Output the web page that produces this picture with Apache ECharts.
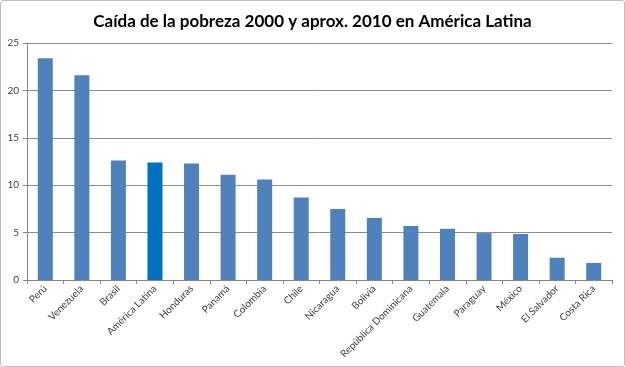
<!DOCTYPE html>
<html>
<head>
<meta charset="utf-8">
<script src="https://cdn.jsdelivr.net/npm/echarts@6/dist/echarts.min.js"></script>
<style>
html,body{margin:0;padding:0;background:#fff;}
#chart{width:625px;height:367px;box-sizing:border-box;border:1px solid #bfbfbf;border-radius:3px;}
</style>
</head>
<body>
<div id="chart"></div>
<script>
var titleText = 'Caída de la pobreza 2000 y aprox. 2010 en América Latina';
var categories = ['Perú','Venezuela','Brasil','América Latina','Honduras','Panamá','Colombia','Chile','Nicaragua','Bolivia','República Dominicana','Guatemala','Paraguay','México','El Salvador','Costa Rica'];
var values = [23.4, 21.6, 12.6, 12.4, 12.3, 11.1, 10.6, 8.7, 7.5, 6.55, 5.7, 5.4, 4.95, 4.85, 2.35, 1.8];
var highlight = 'América Latina';
var yTicks = {min: 0, max: 25, interval: 5};

var chart = echarts.init(document.getElementById('chart'), null, {renderer: 'canvas'});
var data = values.map(function (v, i) {
  return {
    value: v,
    itemStyle: {color: categories[i] === highlight ? '#0070C0' : '#4F81BD'}
  };
});
chart.setOption({
  animation: false,
  title: {
    text: titleText,
    left: 'center',
    top: 7,
    textStyle: {fontFamily: 'Lato', fontSize: 17, fontWeight: 'bold', color: '#000'}
  },
  grid: {left: 26, right: 12, top: 42, bottom: 86, containLabel: false},
  xAxis: {
    type: 'category',
    data: categories,
    boundaryGap: true,
    axisLine: {lineStyle: {color: '#868686', width: 1}},
    axisTick: {show: true, alignWithLabel: false, length: 4, lineStyle: {color: '#868686'}},
    axisLabel: {
      interval: 0, rotate: 45, fontSize: 10, color: '#404040', margin: 7,
      fontFamily: 'Lato'
    }
  },
  yAxis: {
    type: 'value',
    min: yTicks.min, max: yTicks.max, interval: yTicks.interval,
    axisLine: {show: true, lineStyle: {color: '#868686'}},
    axisTick: {show: true, length: 4, lineStyle: {color: '#868686'}},
    splitLine: {lineStyle: {color: '#8c8c8c', width: 1}},
    axisLabel: {fontSize: 10, color: '#404040', margin: 8, fontFamily: 'Lato'}
  },
  series: [{
    type: 'bar',
    data: data,
    barWidth: 15
  }]
});
</script>
</body>
</html>
